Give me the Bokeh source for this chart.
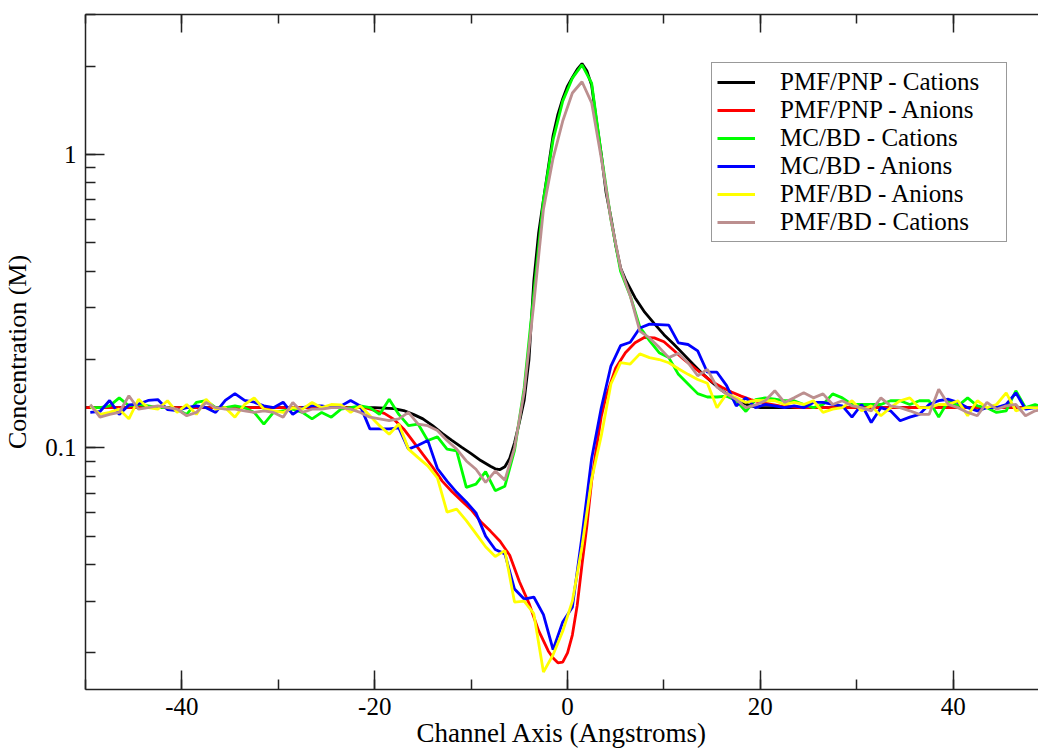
import numpy as np
from bokeh.plotting import figure
from bokeh.models import SingleIntervalTicker, LinearAxis, CustomJSTickFormatter
from bokeh.embed import file_html
from bokeh.resources import INLINE

# ---------------- data ----------------
# PMF/PNP curves (smooth, own x grid)
pnp_cat_x = [-50, -20, -19, -18, -17, -16, -15, -14, -13, -12, -11, -10, -9, -8,
             -7.5, -7, -6.5, -6, -5.5, -5, -4.5, -4, -3.5, -3, -2.5, -2, -1.5, -1, -0.5, 0,
             0.5, 1, 1.5, 2, 2.5, 3, 3.5, 4, 4.5, 5, 5.5, 6,
             7, 8, 9, 10, 11, 12, 13, 14, 15, 16, 17, 18, 19, 20, 50]
pnp_cat_y = [.137, .137, .1365, .136, .134, .130, .1255, .119, .112, .106, .1005, .0955, .0905, .0865,
             .0848, .0843, .0862, .092, .104, .122, .145, .20, .37, .54, .70, .90, 1.16, 1.37, 1.55, 1.71,
             1.83, 1.95, 2.04, 1.93, 1.72, 1.30, 1.00, 0.74, 0.61, 0.49, 0.41, 0.375,
             .325, .29, .265, .243, .226, .209, .193, .179, .167, .157, .149, .143, .139, .137, .137]

pnp_an_x = [-50, -21, -20, -19, -18, -17, -16, -15, -14, -13, -12, -11, -10, -9, -8, -7, -6, -5, -4, -3,
            -2, -1.5, -1, -0.5, 0, 0.5, 1, 1.5, 2, 2.5, 3, 3.5, 4, 5, 6, 7, 8, 9, 10, 11, 12, 13, 14,
            15, 16, 17, 18, 19, 20, 21, 22, 24, 50]
pnp_an_y = [.137, .137, .134, .131, .125, .116, .105, .095, .086, .077, .071, .066, .0615, .056, .052, .048,
            .043, .035, .0295, .0238, .0203, .0192, .0185, .0186, .020, .023, .029, .040, .054, .077, .10,
            .128, .150, .187, .211, .228, .238, .237, .230, .215, .201, .189, .178, .168, .161, .155,
            .150, .146, .143, .141, .139, .137, .137]

# BD / MC curves, sampled every 1 Angstrom at -49.5 ... 49.5
bd_x = list(np.arange(-49.5, 50.0, 1.0))

mcbd_cat = [.137, .137, .139, .148, .139, .1405, .139, .137, .137, .135,
            .130, .1428, .1447, .137, .137, .139, .137, .132, .1205, .132,
            .1337, .1354, .132, .1255, .132, .1272, .1354, .137, .139, .137,
            .130, .1464, .130, .119, .1205, .1059, .109, .099, .0977, .0733,
            .0752, .083, .0714, .074, .098, .16, .335, .70, 1.12, 1.52,
            1.82, 2.02, 1.75, 1.00, 0.60, 0.40, 0.33, 0.258, 0.232, 0.211,
            0.203, 0.178, 0.165, 0.153, 0.149, 0.149, 0.150, 0.145, 0.133, 0.146,
            .148, .1464, .1447, .1447, .1405, .137, .1405, .1527, .148, .1405,
            .1405, .1405, .1405, .1447, .1447, .1405, .1447, .1447, .1272, .1447,
            .139, .148, .139, .137, .132, .1337, .1565, .137, .1405, .137]

mcbd_an = [.132, .133, .145, .130, .140, .141, .145, .146, .135, .134,
           .137, .139, .137, .132, .145, .153, .145, .143, .139, .137,
           .143, .130, .137, .139, .139, .137, .139, .145, .139, .116,
           .116, .116, .117, .099, .102, .106, .085, .077, .0705, .0654,
           .060, .050, .045, .0435, .033, .0305, .031, .027, .0205, .0255,
           .0286, .050, .092, .137, .19, .223, .229, .256, .264, .263,
           .262, .228, .225, .214, .181, .181, .163, .139, .148, .137,
           .1405, .139, .137, .139, .137, .1428, .1428, .1405, .139, .1272,
           .1405, .122, .137, .1337, .1237, .1272, .130, .1405, .1447, .1464,
           .1428, .137, .1337, .137, .137, .1405, .154, .1354, .137, .137]

pmfbd_an = [.139, .130, .132, .1354, .1255, .1464, .137, .1354, .1447, .132,
            .1405, .130, .1464, .1354, .137, .1272, .1405, .148, .1354, .1337,
            .132, .137, .1354, .1428, .137, .1405, .140, .132, .139, .1286,
            .119, .1112, .1205, .099, .0926, .0868, .079, .0604, .0618, .0565,
            .051, .046, .0426, .0446, .0298, .030, .0272, .0172, .0197, .0237,
            .030, .046, .078, .11, .165, .195, .193, .209, .203, .200,
            .195, .186, .178, .171, .166, .137, .1527, .148, .1428, .145,
            .1447, .1447, .1405, .1428, .1405, .1447, .132, .1354, .137, .1447,
            .1337, .139, .1286, .137, .1447, .148, .137, .137, .1405, .1405,
            .1447, .1286, .1447, .137, .1405, .154, .1337, .137, .137, .137]

pmfbd_cat = [.1405, .1272, .130, .132, .1505, .1354, .137, .139, .137, .1354,
             .1286, .132, .1428, .137, .1354, .1354, .1337, .132, .1337, .132,
             .1272, .1428, .132, .1354, .1354, .137, .137, .1354, .132, .1272,
             .1255, .1237, .1255, .132, .1205, .119, .1145, .1059, .099, .0902,
             .0845, .0762, .0833, .0776, .10, .155, .31, .65, .97, 1.30,
             1.62, 1.77, 1.50, 0.97, 0.60, 0.41, 0.33, 0.25, 0.237, 0.22,
             0.203, 0.21, 0.195, 0.176, 0.185, 0.161, 0.1527, 0.146, 0.137, 0.140,
             .1447, .1565, .1428, .148, .154, .148, .1527, .1405, .1447, .139,
             .137, .1337, .148, .139, .137, .1337, .130, .130, .1585, .1405,
             .137, .132, .1286, .1428, .1354, .139, .1405, .1286, .1337, .135]

series = [
    ("PMF/PNP - Cations", pnp_cat_x, pnp_cat_y, "#000000"),
    ("PMF/PNP - Anions", pnp_an_x, pnp_an_y, "#ff0000"),
    ("MC/BD - Cations", bd_x, mcbd_cat, "#00ff00"),
    ("MC/BD - Anions", bd_x, mcbd_an, "#0000ff"),
    ("PMF/BD - Anions", bd_x, pmfbd_an, "#ffff00"),
    ("PMF/BD - Cations", bd_x, pmfbd_cat, "#bc8f8f"),
]

FONT = "Liberation Serif"

p = figure(width=1038, height=751, x_range=(-50, 48.85), y_range=(0.015, 3.0),
           y_axis_type="log", output_backend="svg", toolbar_location=None,
           min_border_left=85, min_border_top=14, min_border_right=0, min_border_bottom=62)
p.outline_line_color = None
p.xgrid.visible = False
p.ygrid.visible = False
p.background_fill_color = "white"
p.border_fill_color = "white"

for name, xs, ys, col in series:
    p.line(xs, ys, line_color=col, line_width=2.8, legend_label=name)

xticker = SingleIntervalTicker(interval=20, num_minor_ticks=2)
plain = CustomJSTickFormatter(code="return String(tick)")

def style_axis(ax):
    ax.axis_line_color = "#222222"
    ax.axis_line_width = 1.5
    ax.major_tick_line_color = "#222222"
    ax.minor_tick_line_color = "#222222"
    ax.major_tick_line_width = 1.5
    ax.minor_tick_line_width = 1.5
    ax.major_tick_in = 19
    ax.major_tick_out = 0
    ax.minor_tick_in = 10
    ax.minor_tick_out = 0
    ax.major_label_text_font = FONT
    ax.major_label_text_font_size = "25px"
    ax.major_label_text_color = "black"
    ax.axis_label_text_font = FONT
    ax.axis_label_text_font_style = "normal"
    ax.axis_label_text_color = "black"

xa = p.xaxis[0]
xa.ticker = xticker
style_axis(xa)
xa.formatter = plain
xa.major_label_standoff = 8
xa.axis_label = "Channel Axis (Angstroms)"
xa.axis_label_text_font_size = "27px"
xa.axis_label_standoff = 0

ya = p.yaxis[0]
style_axis(ya)
ya.formatter = plain
ya.major_label_standoff = 9
ya.axis_label = "Concentration (M)"
ya.axis_label_text_font_size = "26px"
ya.axis_label_standoff = 10

top = LinearAxis(ticker=xticker, formatter=CustomJSTickFormatter(code="return ''"))
style_axis(top)
top.major_label_standoff = 0
top.major_tick_in = 18
top.minor_tick_in = 9
p.add_layout(top, "above")

lg = p.legend[0]
lg.location = (626, 447)
lg.margin = 0
lg.padding = 5
lg.spacing = 0
lg.glyph_width = 38
lg.glyph_height = 28
lg.label_height = 28
lg.label_width = 221
lg.label_standoff = 25
lg.label_text_font = FONT
lg.label_text_font_size = "25px"
lg.label_text_color = "black"
lg.border_line_color = "#333333"
lg.border_line_width = 1.5
lg.background_fill_alpha = 1.0

open("out.html", "w").write(file_html(p, INLINE))
